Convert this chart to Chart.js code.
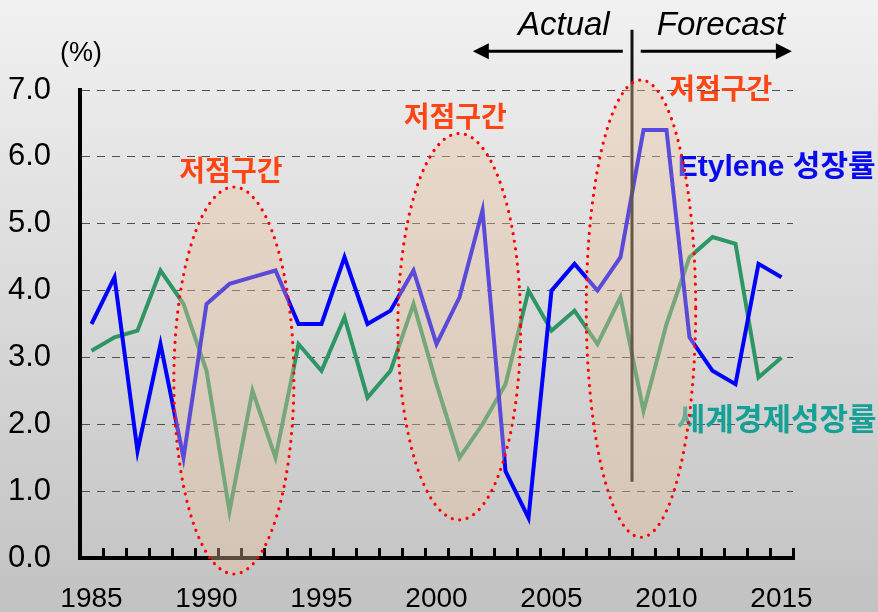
<!DOCTYPE html>
<html><head><meta charset="utf-8">
<script src="https://cdn.jsdelivr.net/npm/chart.js@4.4.1/dist/chart.umd.min.js"></script>
<style>html,body{margin:0;padding:0;background:#d8d8d8;}canvas{display:block;}</style>
</head><body>
<canvas id="c" width="878" height="612"></canvas>
<script>
// ---- data ----
const years = ['1985','1986','1987','1988','1989','1990','1991','1992','1993','1994','1995','1996','1997','1998','1999','2000','2001','2002','2003','2004','2005','2006','2007','2008','2009','2010','2011','2012','2013','2014','2015'];
const ethyleneGrowth = [3.5,4.2,1.6,3.2,1.5,3.8,4.1,4.2,4.3,3.5,3.5,4.5,3.5,3.7,4.3,3.2,3.9,5.2,1.3,0.6,4.0,4.4,4.0,4.5,6.4,6.4,3.3,2.8,2.6,4.4,4.2];
const worldGrowth = [3.1,3.3,3.4,4.3,3.8,2.8,0.7,2.5,1.5,3.2,2.8,3.6,2.4,2.8,3.8,2.6,1.5,2.0,2.6,4.0,3.4,3.7,3.2,3.9,2.2,3.5,4.5,4.8,4.7,2.7,3.0];
const yTicks = [0,1,2,3,4,5,6,7];
const seriesNames = ['Etylene 성장률','세계경제성장률'];
const lowZoneLabel = '저점구간';
const periodLabels = ['Actual','Forecast'];
const unitLabel = '(%)';

// ---- annotation geometry (category index / value units) ----
const lowZones = [
  {x:6.19, y:2.655, rx:2.61, ry:2.894},
  {x:15.99, y:3.46, rx:2.67, ry:2.89},
  {x:23.89, y:3.73, rx:2.38, ry:3.42}
];
const lowLabelPos = [{x:6.06,y:5.80},{x:15.82,y:6.61},{x:27.36,y:7.03}];
const seriesLabelPos = [{x:25.49,y:5.84},{x:25.45,y:2.09}];
const divider = {x:23.5, y0:1.14, y1:7.9};
const arrowRow = {y:7.58, leftFrom:23.1, leftTip:16.58, rightFrom:23.88, rightTip:30.45, textY:7.83, actualRight:22.53, forecastLeft:24.58};

const SANS = "'Liberation Sans', Arial, Helvetica, sans-serif";
const KR = "'Noto Sans CJK KR', 'Noto Sans CJK SC', sans-serif";
Chart.defaults.font.family = SANS;

const bgPlugin = {
  id:'bg',
  beforeDraw(chart){
    const {ctx,width,height} = chart;
    const g = ctx.createLinearGradient(0,0,0,height);
    g.addColorStop(0,'#f1f1f1'); g.addColorStop(1,'#c2c2c2');
    ctx.save(); ctx.fillStyle = g; ctx.fillRect(0,0,width,height); ctx.restore();
  }
};

const overlayPlugin = {
  id:'overlay',
  afterDatasetsDraw(chart){
    const ctx = chart.ctx, xs = chart.scales.x, ys = chart.scales.y;
    const X = v => xs.getPixelForValue(v), Y = v => ys.getPixelForValue(v);
    ctx.save();
    // divider
    ctx.strokeStyle = '#141414'; ctx.lineWidth = 3;
    ctx.beginPath(); ctx.moveTo(X(divider.x), Y(divider.y0)); ctx.lineTo(X(divider.x), Y(divider.y1)); ctx.stroke();
    // arrows
    const ay = Y(arrowRow.y);
    const arrow = (from, tip) => {
      const fx = X(from), tx = X(tip), dir = Math.sign(tx - fx);
      ctx.strokeStyle = '#000'; ctx.fillStyle = '#000'; ctx.lineWidth = 3;
      ctx.beginPath(); ctx.moveTo(fx, ay); ctx.lineTo(tx - dir*14, ay); ctx.stroke();
      ctx.beginPath(); ctx.moveTo(tx, ay); ctx.lineTo(tx - dir*16, ay - 8); ctx.lineTo(tx - dir*16, ay + 8); ctx.closePath(); ctx.fill();
    };
    arrow(arrowRow.leftFrom, arrowRow.leftTip);
    arrow(arrowRow.rightFrom, arrowRow.rightTip);
    ctx.fillStyle = '#000';
    ctx.font = 'italic 33px ' + SANS; ctx.textBaseline = 'alphabetic';
    ctx.textAlign = 'right'; ctx.fillText(periodLabels[0], X(arrowRow.actualRight), Y(arrowRow.textY));
    ctx.textAlign = 'left'; ctx.fillText(periodLabels[1], X(arrowRow.forecastLeft), Y(arrowRow.textY));
    // unit
    ctx.font = '27px ' + SANS; ctx.textAlign = 'center'; ctx.textBaseline = 'middle';
    ctx.fillText(unitLabel, chart.chartArea.left + 1, Y(7.54));
    // series labels
    ctx.textAlign = 'left';
    ctx.font = 'bold 30px ' + SANS + ', ' + KR;
    ctx.fillStyle = '#0a0aee';
    ctx.fillText(seriesNames[0], X(seriesLabelPos[0].x), Y(seriesLabelPos[0].y));
    ctx.font = 'bold 31px ' + KR;
    ctx.fillStyle = '#16a096';
    ctx.fillText(seriesNames[1], X(seriesLabelPos[1].x), Y(seriesLabelPos[1].y));
    // low-zone labels
    ctx.font = 'bold 28px ' + KR; ctx.textAlign = 'center'; ctx.fillStyle = '#ff4514';
    lowLabelPos.forEach(p => ctx.fillText(lowZoneLabel, X(p.x), Y(p.y)));
    // ellipses
    lowZones.forEach(z => {
      const cx = X(z.x), cy = Y(z.y);
      const rx = Math.abs(X(z.x + z.rx) - cx), ry = Math.abs(Y(z.y + z.ry) - cy);
      ctx.beginPath(); ctx.ellipse(cx, cy, rx, ry, 0, 0, Math.PI*2);
      ctx.fillStyle = 'rgba(236,194,158,0.38)'; ctx.fill();
      ctx.setLineDash([0.01, 7.6]); ctx.lineCap = 'round'; ctx.lineWidth = 3.2; ctx.strokeStyle = '#ff0000';
      ctx.stroke(); ctx.setLineDash([]);
    });
    ctx.restore();
  }
};

new Chart(document.getElementById('c'), {
  type:'line',
  data:{
    labels: years,
    datasets:[
      {label:seriesNames[0], data:ethyleneGrowth, borderColor:'#0000ff', borderWidth:4, pointRadius:0, tension:0, fill:false},
      {label:seriesNames[1], data:worldGrowth, borderColor:'#2e9664', borderWidth:4, pointRadius:0, tension:0, fill:false}
    ]
  },
  options:{
    responsive:false, animation:false,
    layout:{padding:{top:90,right:85,left:0,bottom:0}},
    plugins:{legend:{display:false}, tooltip:{enabled:false}},
    scales:{
      x:{
        offset:true,
        grid:{offset:true, drawOnChartArea:false, color:'#000', lineWidth:3, tickLength:-10, drawTicks:true},
        border:{color:'#000', width:4},
        ticks:{autoSkip:false, maxRotation:0, minRotation:0, padding:34, color:'#000', font:{size:28},
          callback:(v,i)=> (Number(years[i]) % 5 === 0 ? years[i] : '')},
        afterFit(s){ s.height = 54; }
      },
      y:{
        min:0, max:7,
        afterBuildTicks(s){ s.ticks = yTicks.map(v => ({value:v})); },
        grid:{color:'#505050', lineWidth:1, drawTicks:false},
        border:{color:'#000', width:4, dash:[8,7]},
        ticks:{padding:29, color:'#000', font:{size:31}, callback:v => Number(v).toFixed(1)},
        afterFit(s){ s.width = 80; }
      }
    }
  },
  plugins:[bgPlugin, overlayPlugin]
});
</script>
</body></html>
